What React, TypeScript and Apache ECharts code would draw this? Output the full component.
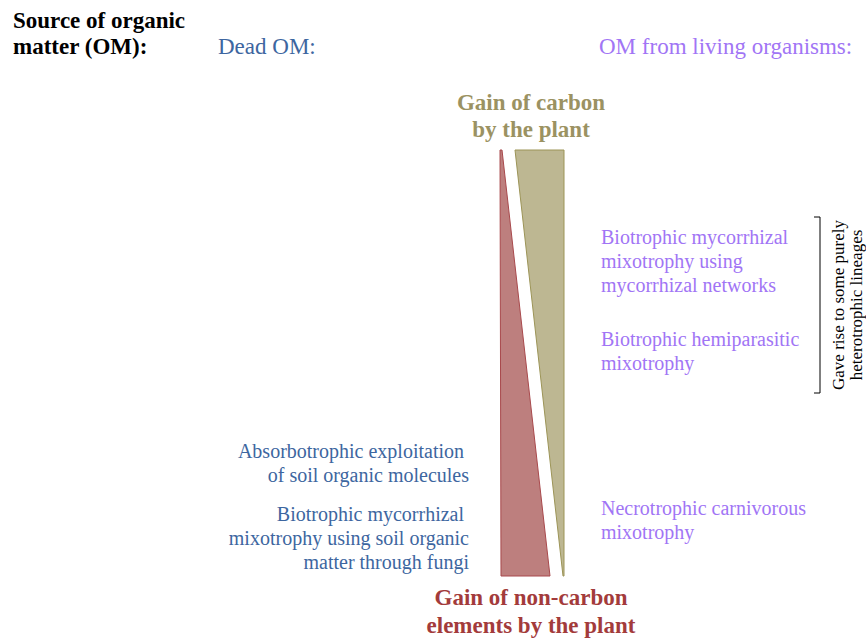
import React, { useEffect, useRef } from "react";
import * as echarts from "echarts";

const titleLines = ["Source of organic", "matter (OM):"];
const deadHeader = "Dead OM:";
const livingHeader = "OM from living organisms:";
const carbonTitle = ["Gain of carbon", "by the plant"];
const nonCarbonTitle = ["Gain of non-carbon", "elements by the plant"];
const deadBlocks = [
  ["Absorbotrophic exploitation ", "of soil organic molecules"],
  ["Biotrophic mycorrhizal ", "mixotrophy using soil organic", "matter through fungi"],
];
const livingBlocks = [
  ["Biotrophic mycorrhizal", "mixotrophy using", "mycorrhizal networks"],
  ["Biotrophic hemiparasitic", "mixotrophy"],
  ["Necrotrophic carnivorous", "mixotrophy"],
];
const bracketNote = ["Gave rise to some purely", "heterotrophic lineages"];
// wedge shapes in diagram units (x: 0..866, y: 0..639)
const nonCarbonWedge = [[500, 150], [501, 576], [550, 576], [502, 150]];
const carbonWedge = [[515, 150], [564, 150], [564, 576], [563, 576]];

const SERIF = "Liberation Serif";
const BLUE = "#3d66a0";
const PURPLE = "#a175f5";
const OLIVE = "#9b9262";
const DARKRED = "#a33b3b";

export default function App() {
  const ref = useRef<HTMLDivElement>(null);
  useEffect(() => {
    if (!ref.current) return;
    const chart = echarts.init(ref.current, null, { renderer: "svg" });
    const lh = 24;
    const texts: any[] = [];
    const st = (text: string, size: number, fill: string, bold = false, align = "left") => ({
      text,
      fontFamily: SERIF,
      fontSize: size,
      fontWeight: bold ? "bold" : "normal",
      fill,
      align,
      verticalAlign: "middle",
    });
    titleLines.forEach((t, i) => texts.push({ type: "text", x: 13, y: 20 + i * 26, style: st(t, 23, "#000", true) }));
    texts.push({ type: "text", x: 218, y: 46, style: st(deadHeader, 23, BLUE) });
    texts.push({ type: "text", x: 599, y: 46, style: st(livingHeader, 23, PURPLE) });
    carbonTitle.forEach((t, i) => texts.push({ type: "text", x: 531, y: 102 + i * 27, style: st(t, 23, OLIVE, true, "center") }));
    nonCarbonTitle.forEach((t, i) => texts.push({ type: "text", x: 531, y: 597 + i * 28, style: st(t, 23, DARKRED, true, "center") }));
    const deadStarts = [451, 514];
    deadBlocks.forEach((b, bi) =>
      b.forEach((t, i) => texts.push({ type: "text", x: 469, y: deadStarts[bi] + i * lh, style: st(t, 20, BLUE, false, "right") }))
    );
    const livingStarts = [237, 339, 508];
    livingBlocks.forEach((b, bi) =>
      b.forEach((t, i) => texts.push({ type: "text", x: 601, y: livingStarts[bi] + i * lh, style: st(t, 20, PURPLE) }))
    );
    bracketNote.forEach((t, i) =>
      texts.push({ type: "text", x: 838 + i * 18, y: 305, rotation: Math.PI / 2, style: st(t, 17, "#000", false, "center") })
    );
    texts.push({ type: "polyline", shape: { points: [[814, 217], [820, 217], [820, 393], [814, 393]] }, style: { stroke: "#000", lineWidth: 1, fill: null } });

    const wedges = [
      { pts: nonCarbonWedge, fill: "#bd7f7e", stroke: "#a8494c" },
      { pts: carbonWedge, fill: "#bdb792", stroke: "#9c9457" },
    ];

    chart.setOption({
      animation: false,
      grid: { left: 0, right: 0, top: 0, bottom: 0 },
      xAxis: { type: "value", min: 0, max: 866, show: false },
      yAxis: { type: "value", min: 0, max: 639, inverse: true, show: false },
      series: [
        {
          type: "custom",
          data: wedges.map((_, i) => [i]),
          renderItem: (params: any, api: any) => {
            const w = wedges[params.dataIndex];
            return {
              type: "polygon",
              shape: { points: w.pts.map((p) => api.coord(p)) },
              style: { fill: w.fill, stroke: w.stroke, lineWidth: 1 },
            };
          },
          silent: true,
        },
      ],
      graphic: texts,
    });
    return () => chart.dispose();
  }, []);
  return <div ref={ref} style={{ position: "fixed", left: 0, top: 0, width: 866, height: 639, background: "#fff" }} />;
}
